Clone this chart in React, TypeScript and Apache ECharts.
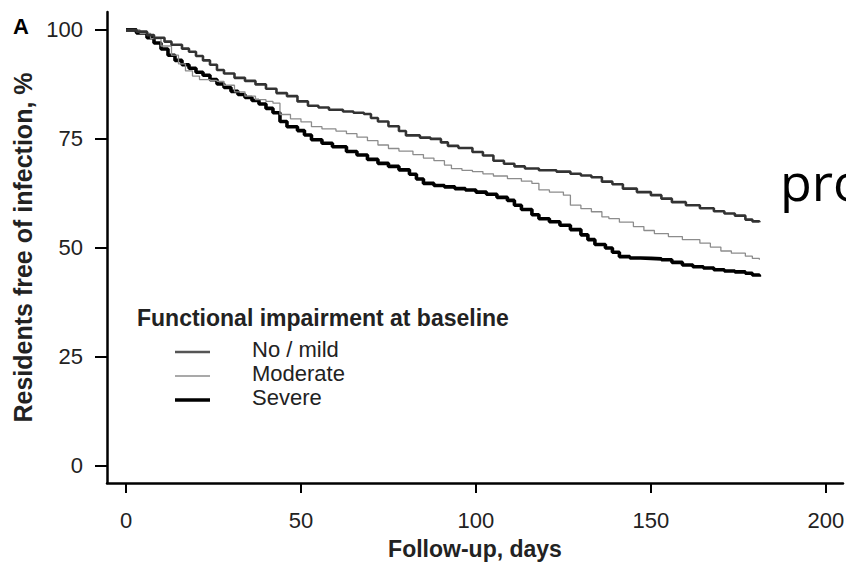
import React, { useEffect, useRef } from "react";
import * as echarts from "echarts";

// Kaplan–Meier curves: [day, % free of infection]
const noMildDays = [0, 3, 6, 8, 11, 13, 16, 18, 20, 22, 24, 26, 28, 31, 34, 37, 40, 43, 46, 49, 52, 55, 58, 62, 65, 68, 70, 72, 75, 78, 80, 84, 87, 90, 92, 95, 99, 102, 105, 108, 111, 114, 118, 123, 127, 130, 133, 136, 139, 142, 146, 150, 153, 156, 160, 164, 168, 171, 174, 177, 179, 181];
const noMildValues = [100, 99.6, 98.8, 98.2, 97.3, 96.6, 95.7, 95.0, 94.0, 93.0, 92.0, 90.8, 90.0, 89.0, 88.3, 87.5, 86.5, 85.5, 84.8, 83.6, 82.6, 82.2, 81.7, 81.3, 81.0, 80.7, 79.8, 79.0, 77.9, 76.8, 75.8, 75.3, 75.0, 74.2, 73.4, 72.9, 72.0, 71.2, 70.0, 69.3, 68.7, 68.2, 67.8, 67.5, 67.0, 66.6, 66.2, 65.2, 64.6, 63.6, 62.8, 62.1, 61.3, 60.5, 59.8, 59.1, 58.4, 57.9, 57.4, 56.5, 56.1, 55.9];

const moderateDays = [0, 4, 7, 10, 13, 15, 17, 19, 21, 24, 26, 28, 31, 34, 37, 40, 42, 44, 47, 50, 53, 56, 60, 63, 66, 69, 72, 75, 78, 82, 85, 88, 91, 93, 96, 99, 102, 105, 109, 113, 116, 118, 121, 125, 127, 130, 133, 136, 138, 141, 145, 148, 151, 155, 159, 164, 167, 170, 173, 177, 179, 181];
const moderateValues = [100, 99.2, 98.0, 96.3, 94.2, 92.2, 90.6, 89.4, 88.6, 88.4, 88.2, 87.3, 85.8, 84.8, 84.0, 83.6, 83.2, 80.6, 79.6, 78.9, 77.8, 77.3, 76.8, 76.2, 75.4, 74.6, 73.6, 72.8, 72.2, 71.4, 70.6, 70.0, 69.0, 68.2, 67.8, 67.5, 67.0, 66.5, 65.9, 65.3, 64.8, 63.3, 62.8, 62.1, 59.8, 59.0, 58.3, 57.1, 56.7, 55.9, 54.9, 54.0, 53.3, 52.6, 51.9, 51.1, 50.2, 49.3, 48.8, 48.1, 47.6, 47.3];

const severeDays = [0, 3, 6, 8, 10, 12, 14, 16, 18, 20, 22, 24, 26, 28, 30, 32, 34, 36, 38, 40, 42, 44, 46, 49, 51, 53, 56, 59, 63, 66, 69, 72, 75, 78, 81, 83, 85, 88, 91, 94, 97, 100, 103, 106, 109, 111, 113, 116, 118, 121, 124, 127, 130, 132, 134, 137, 139, 141, 144, 147, 150, 153, 156, 159, 162, 165, 168, 171, 174, 177, 179, 181];
const severeValues = [100, 99.3, 98.2, 97.0, 95.6, 94.2, 93.0, 92.0, 91.2, 90.3, 89.6, 88.6, 87.6, 86.8, 85.9, 85.2, 84.5, 83.8, 83.0, 82.0, 81.0, 79.0, 77.8, 76.9, 75.9, 74.8, 74.0, 73.2, 72.1, 71.3, 70.3, 69.4, 68.7, 67.9, 66.9, 65.8, 64.8, 64.3, 64.0, 63.6, 63.3, 62.8, 62.3, 61.6, 60.9, 59.8, 58.8, 57.6, 56.7, 56.0, 55.2, 54.2, 53.0, 51.9, 50.8, 50.0, 49.0, 48.0, 47.7, 47.6, 47.5, 47.3, 46.7, 46.1, 45.7, 45.4, 45.0, 44.7, 44.5, 44.2, 43.8, 43.4];

const seriesNames = ["No / mild", "Moderate", "Severe"];
const legendTitle = "Functional impairment at baseline";
const xTicks = [0, 50, 100, 150, 200];
const yTicks = [0, 25, 50, 75, 100];

const FONT = "Liberation Sans, Arial, Helvetica, sans-serif";

const zip = (xs: number[], ys: number[]) => xs.map((x, i) => [x, ys[i]]);

export default function App() {
  const ref = useRef<HTMLDivElement>(null);
  useEffect(() => {
    if (!ref.current) return;
    const chart = echarts.init(ref.current, undefined, { renderer: "svg" });
    const styles = [
      { color: "#333333", width: 2.6 },
      { color: "#8c8c8c", width: 1.3 },
      { color: "#000000", width: 3.6 },
    ];
    const datas = [
      zip(noMildDays, noMildValues),
      zip(moderateDays, moderateValues),
      zip(severeDays, severeValues),
    ];
    const legendRowsY = [352, 376, 400];
    const legendGraphics: any[] = [];
    seriesNames.forEach((name, i) => {
      legendGraphics.push({
        type: "line",
        shape: { x1: 175, y1: legendRowsY[i], x2: 210, y2: legendRowsY[i] },
        style: { stroke: i === 0 ? "#555555" : styles[i].color, lineWidth: styles[i].width },
      });
      legendGraphics.push({
        type: "text",
        x: 252,
        y: legendRowsY[i] - 3,
        style: { text: name, font: `22px ${FONT}`, fill: "#222", verticalAlign: "middle", align: "left" },
      });
    });
    chart.setOption({
      animation: false,
      backgroundColor: "#ffffff",
      textStyle: { fontFamily: FONT },
      grid: { left: 107, right: 3, top: 12, bottom: 84, containLabel: false, outerBoundsMode: "none" },
      xAxis: {
        type: "value",
        min: -5.43,
        max: 204.9,
        splitLine: { show: false },
        axisLine: { show: true, onZero: false, lineStyle: { color: "#000", width: 2.5 } },
        axisTick: { show: true, customValues: xTicks, length: 10, lineStyle: { color: "#000", width: 2 } },
        axisLabel: { customValues: xTicks, margin: 26, fontSize: 22, color: "#222", fontFamily: FONT },
        name: "Follow-up, days",
        nameLocation: "middle",
        nameGap: 54,
        nameTextStyle: { fontSize: 23, fontWeight: "bold", color: "#222", fontFamily: FONT },
      },
      yAxis: {
        type: "value",
        min: -3.9,
        max: 104.1,
        splitLine: { show: false },
        axisLine: { show: true, onZero: false, lineStyle: { color: "#000", width: 2.5 } },
        axisTick: { show: true, customValues: yTicks, length: 12, lineStyle: { color: "#000", width: 2 } },
        axisLabel: { customValues: yTicks, margin: 24, fontSize: 22, color: "#222", fontFamily: FONT },
        name: "Residents free of infection, %",
        nameLocation: "middle",
        nameGap: 70,
        nameTextStyle: { fontSize: 25, fontWeight: "bold", color: "#222", fontFamily: FONT },
      },
      graphic: [
        {
          type: "text",
          x: 13,
          y: 26,
          style: { text: "A", font: `bold 22px ${FONT}`, fill: "#000", verticalAlign: "middle" },
        },
        {
          type: "text",
          x: 137,
          y: 318,
          style: { text: legendTitle, font: `bold 23px ${FONT}`, fill: "#222", verticalAlign: "middle" },
        },
        {
          type: "text",
          x: 780,
          y: 180,
          style: { text: "pro", font: `52px "Open Sans", "Noto Sans", sans-serif`, fill: "#000", verticalAlign: "middle", align: "left" },
        },
        ...legendGraphics,
      ],
      series: seriesNames.map((name, i) => ({
        name,
        type: "line",
        step: "end",
        showSymbol: false,
        symbol: "none",
        data: datas[i],
        lineStyle: { color: styles[i].color, width: styles[i].width },
        itemStyle: { color: styles[i].color },
        z: 3 - i,
      })),
    });
    return () => chart.dispose();
  }, []);
  return <div ref={ref} style={{ position: "absolute", left: 0, top: 0, width: 846, height: 567 }} />;
}
